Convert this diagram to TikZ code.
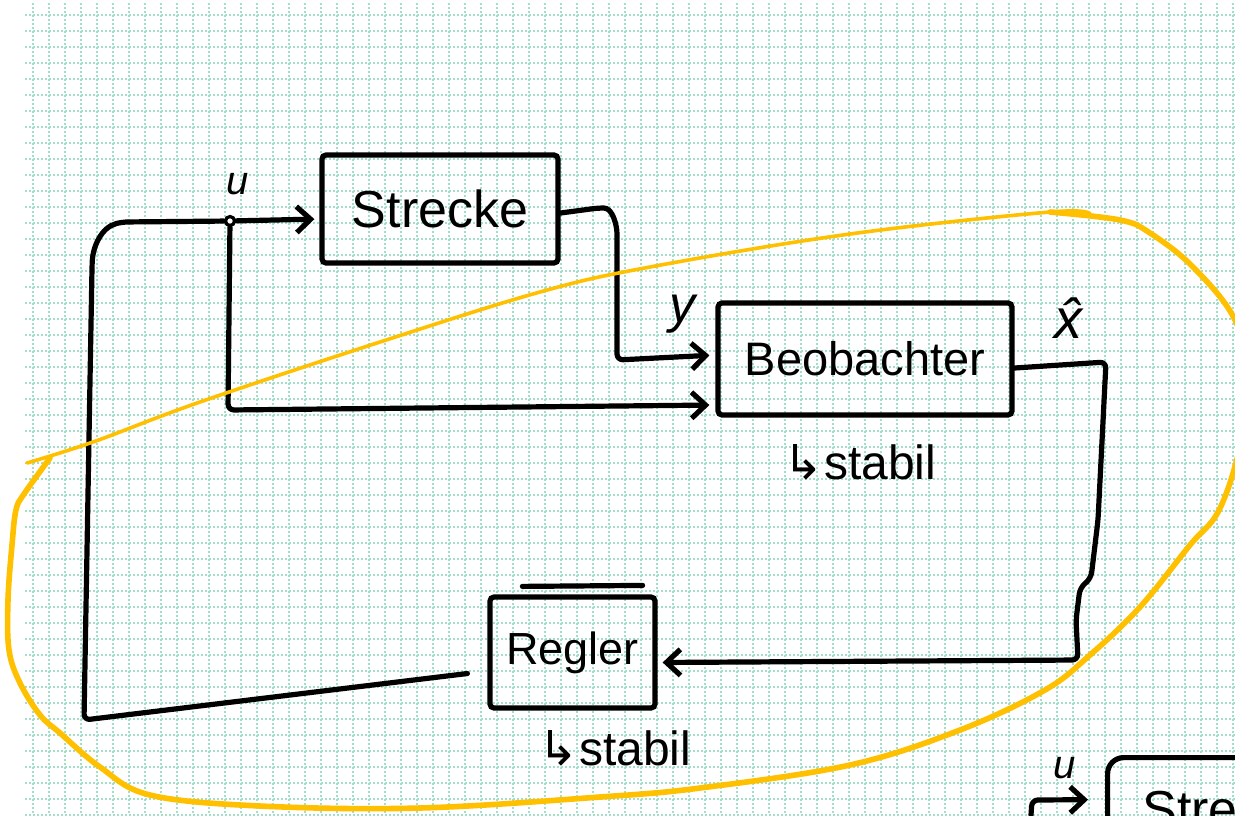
\documentclass[tikz,border=0pt]{standalone}
\usepackage{fontspec}
\setmainfont{Liberation Sans}
\newfontfamily\symfont{DejaVu Sans}
\usetikzlibrary{arrows.meta,calc}
\definecolor{gridmint}{RGB}{164,222,200}
\definecolor{marker}{RGB}{255,192,0}
\tikzset{
  wire/.style={line width=2.6pt, line cap=round, line join=round, rounded corners=3pt},
  tip/.style={-{Straight Barb[length=7pt,width=13pt]}, shorten >=2.5pt},
  block/.style={draw, line width=2.6pt, rounded corners=2pt, inner sep=0pt},
  lbl/.style={font=\fontsize{26}{30}\selectfont\itshape},
  note/.style={font=\fontsize{24}{28}\selectfont},
  gridline/.style={gridmint, line width=1pt, dash pattern=on 1pt off 1pt},
}
\begin{document}
\begin{tikzpicture}[x=0.5pt, y=-0.5pt]
\useasboundingbox (0,0) rectangle (1235,815);
\clip (0,0) rectangle (1235,815);
\fill[white] (0,0) rectangle (1235,815);

% squared paper
\foreach \gx in {33,49,...,1235} \draw[gridline] (\gx,3) -- (\gx,815);
\foreach \gy in {15,31,...,815} \draw[gridline] (25,\gy) -- (1235,\gy);

% blocks
\node[block, minimum width=118pt, minimum height=54pt,
      font=\fontsize{26}{30}\selectfont] (strecke) at (440,209) {Strecke};
\node[block, minimum width=147pt, minimum height=56pt,
      font=\fontsize{23.5}{28}\selectfont] (beob) at (865,359) {Beobachter};
\node[block, minimum width=82.5pt, minimum height=55.5pt,
      font=\fontsize{22.5}{26}\selectfont] (regler) at (572.5,652.5) {Regler};
\draw[wire] ($(regler.north west)+(35,-8)$) -- ($(regler.north east)+(-15,-9)$);

\node[note] (stabilB) at (860,462) {{\symfont ↳}stabil};
\node[note] (stabilR) at (615,748) {{\symfont ↳}stabil};

% branch point of the input u
\node[circle, draw, line width=1.6pt, fill=white, inner sep=0pt, minimum size=4.5pt] (j) at (230,221) {};

% input u: controller output into the plant, branching to the observer
\draw[wire] ($(regler.west)+(-20,21)$) -- (84,720) -- (92,268)
  to[out=88,in=195] (122,222) -- (j);
\draw[wire,tip] (j) -- ($(strecke.west)+(0,10)$);
\draw[wire,tip,shorten >=3pt] (j) -- (228,410) -- ($(beob.west)+(0,46)$);

% plant output y into the observer
\draw[wire,tip,shorten >=3pt] ($(strecke.east)+(0,4)$) -- (598,208)
  to[out=0,in=90] (617,240) -- (617,360) -- ($(beob.west)+(0,-4)$);

% estimated state back to the controller
\draw[wire,tip] ($(beob.east)+(0,9)$) -- (1106,362) -- (1098,520) -- (1091,578)
  -- (1080,588) -- (1076,620) -- (1078,660) -- ($(regler.east)+(0,10)$);

% signal names
\node[lbl, font=\fontsize{20}{22}\selectfont\itshape] (ulbl) at (238,184) {u};
\node[lbl] (ylbl) at (682,314) {y};
\node[lbl, font=\fontsize{28}{30}\selectfont\itshape] (xlbl) at (1068,318) {\^{x}};

% next sketch, cut by the page edge
\node[block, rounded corners=8pt, anchor=north west, minimum width=123pt, minimum height=51pt,
      font=\fontsize{26}{30}\selectfont] (strecke2) at (1105,755) {Strecke};
\coordinate (u2start) at (1031,815);
\draw[wire,tip,shorten >=8.5pt] (u2start) -- (1032,800) -- ($(strecke2.west)+(0,-9)$);
\node[lbl, font=\fontsize{20}{22}\selectfont\itshape] (u2lbl) at (1065,768) {u};

% highlighted region
\draw[marker, line width=1.8pt, line cap=round] plot[smooth, tension=0.6] coordinates {
  (27,463) (93,442) (200,402) (380,342) (540,292) (650,267) (850,234) (1050,212) (1090,214)};
\draw[marker, line width=2.8pt, line cap=round, line join=round] plot[smooth, tension=0.6] coordinates {
  (1050,212) (1120,220) (1150,233) (1193,267) (1235,320) (1250,385) (1238,455) (1218,512)
  (1190,545) (1140,607) (1090,655) (1045,690) (960,730) (850,765) (700,788) (600,797)
  (420,808) (260,806) (150,795) (100,767) (60,733) (40,715) (20,683) (9,650) (8,600)
  (12,545) (16,510) (24,494) (50,458)};
\end{tikzpicture}
\end{document}
